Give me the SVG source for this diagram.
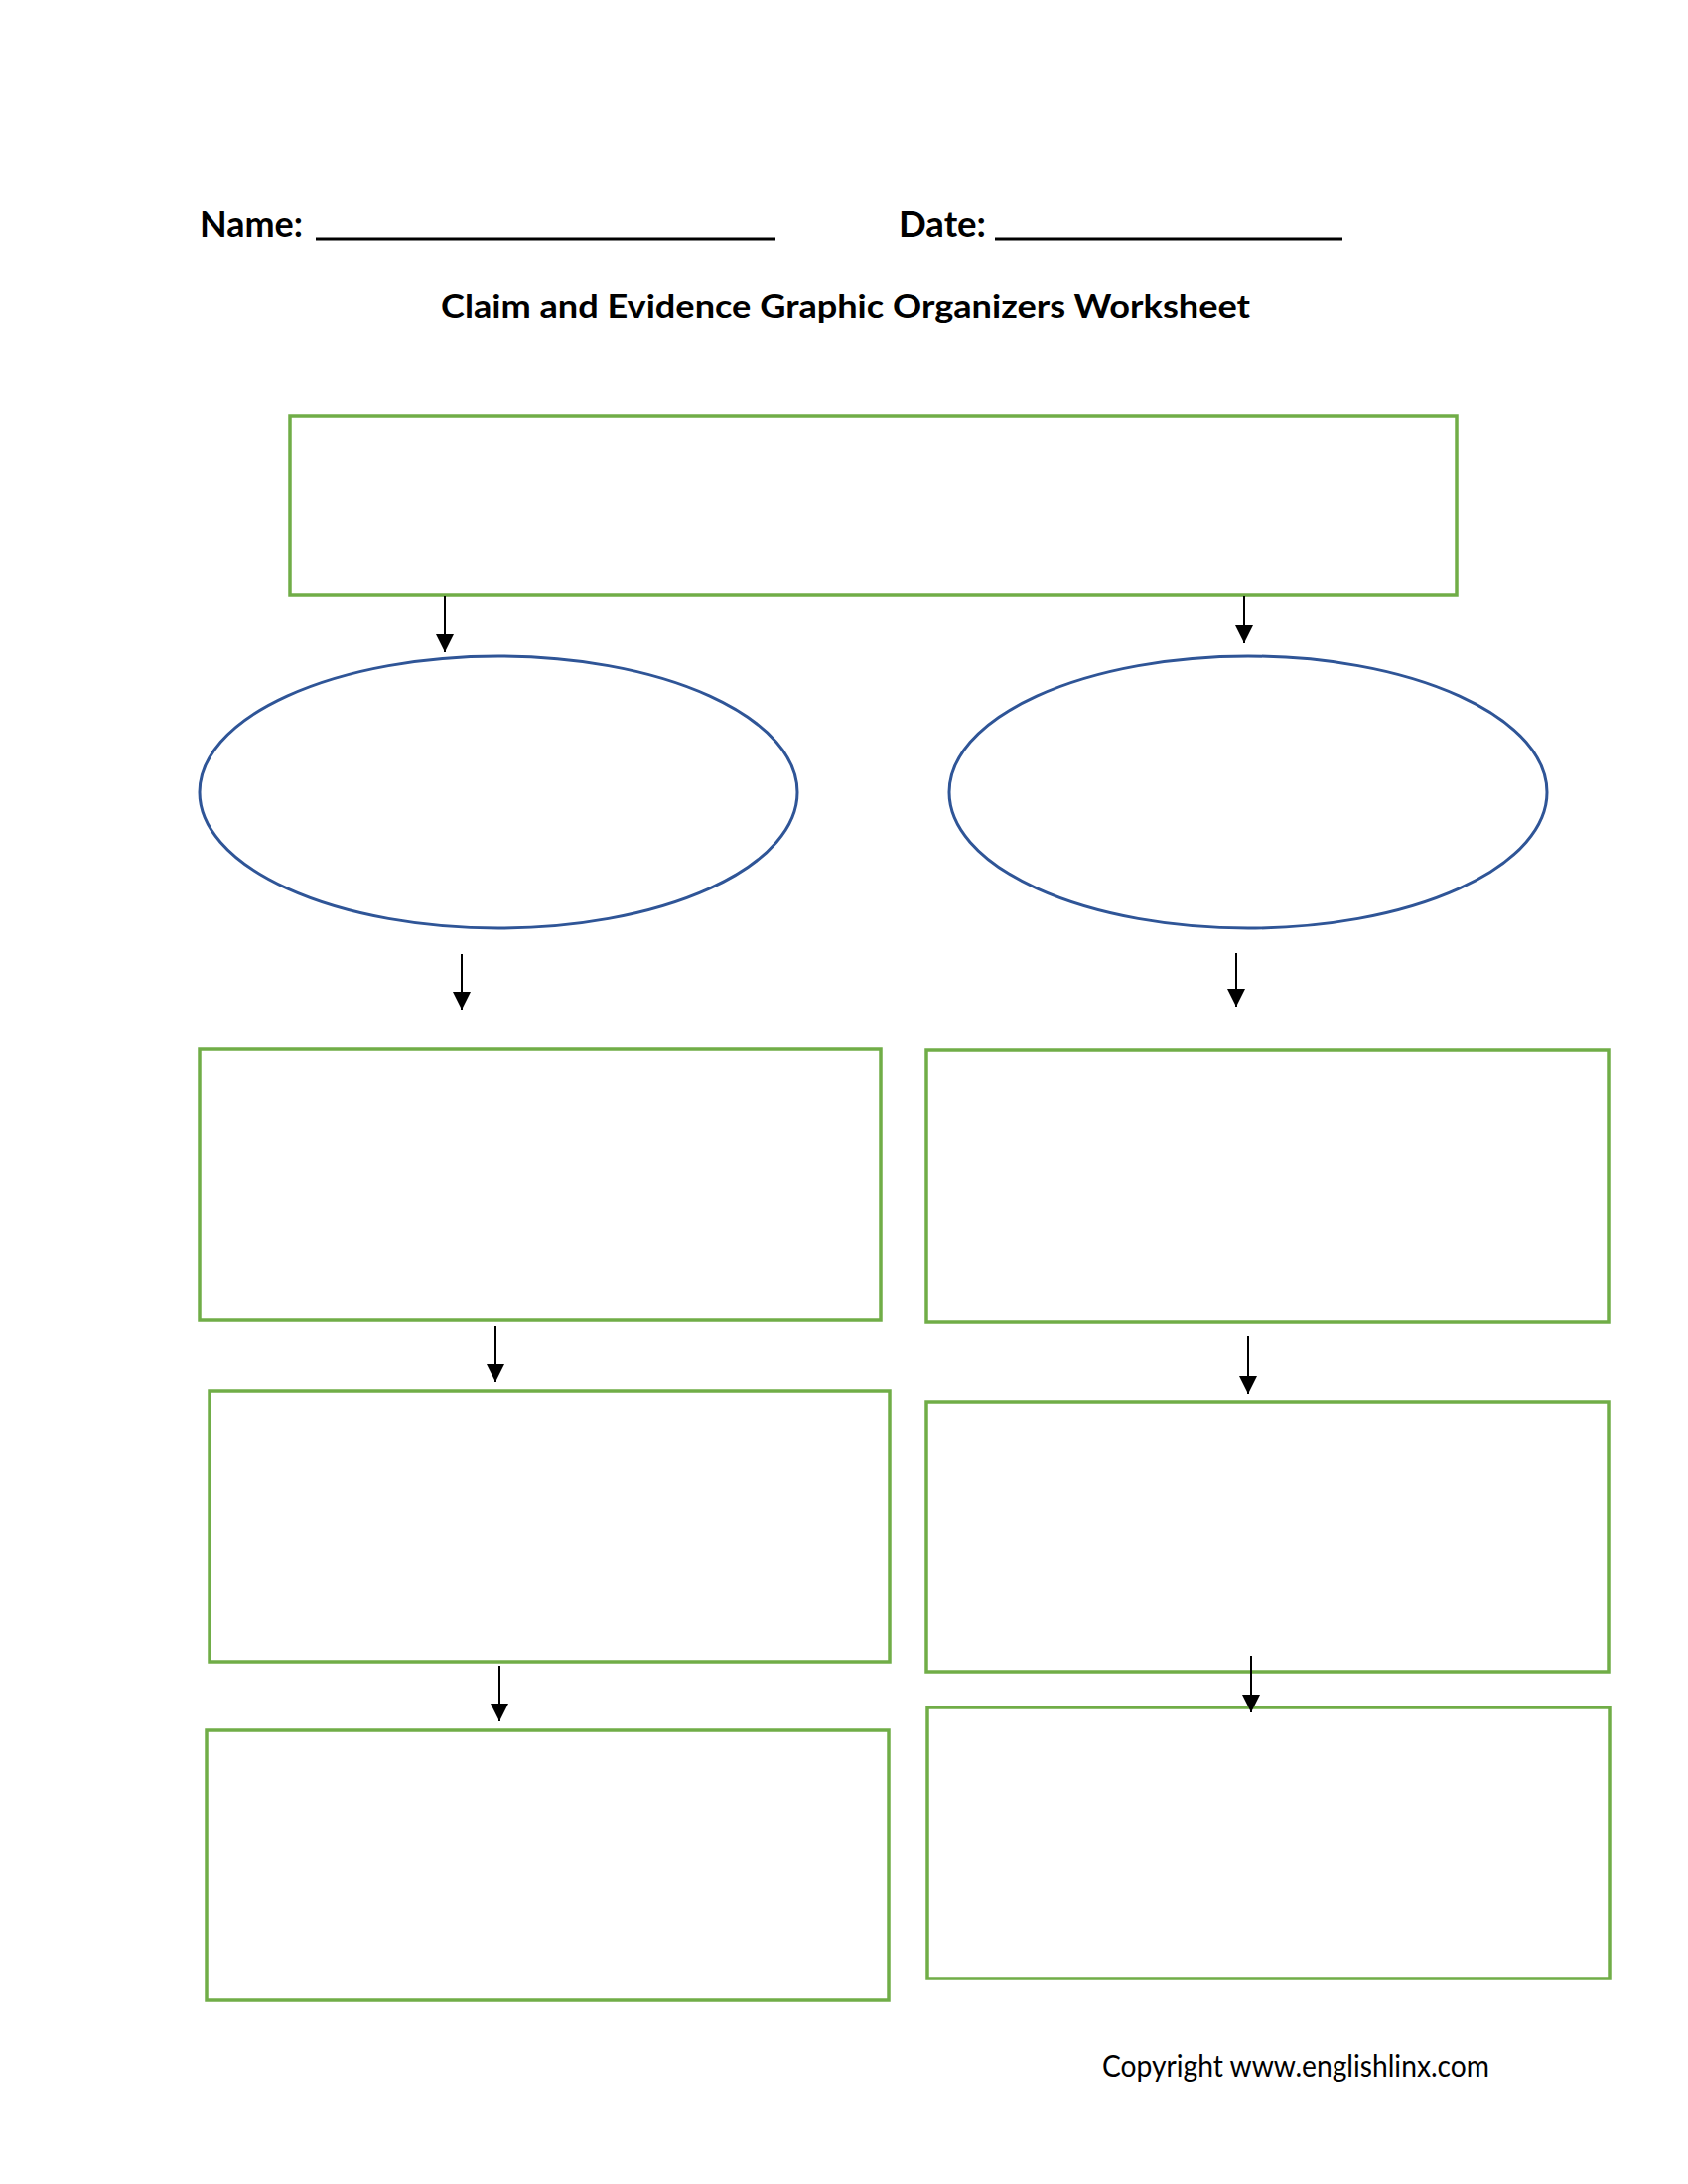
<svg xmlns="http://www.w3.org/2000/svg" width="1700" height="2200" viewBox="0 0 1700 2200">
<defs>
<style>
.box{fill:none;stroke:#70AD47;stroke-width:3.5}
.oval{fill:none;stroke:#2F5597;stroke-width:3}
.ln{stroke:#000;stroke-width:2;fill:none}
.hd{font-family:Lato,"Liberation Sans",sans-serif;font-weight:bold;fill:#000}
.rule{stroke:#000;stroke-width:3}
</style>
<marker id="ah" viewBox="0 0 10 10" refX="10" refY="5" markerWidth="18" markerHeight="18" markerUnits="userSpaceOnUse" orient="auto">
<path d="M0,0 L10,5 L0,10 z" fill="#000"/>
</marker>
</defs>
<rect width="1700" height="2200" fill="#fff"/>
<g id="header">
<text class="hd" x="201" y="239" font-size="36" textLength="104" lengthAdjust="spacingAndGlyphs">Name:</text>
<line class="rule" x1="318" y1="241" x2="781" y2="241"/>
<text class="hd" x="905" y="239" font-size="36" textLength="88" lengthAdjust="spacingAndGlyphs">Date:</text>
<line class="rule" x1="1002" y1="241" x2="1352" y2="241"/>
<text class="hd" x="444" y="320" font-size="33" textLength="815" lengthAdjust="spacingAndGlyphs">Claim and Evidence Graphic Organizers Worksheet</text>
</g>
<g id="claim"><rect class="box" x="292" y="419" width="1175" height="180"/></g>
<g id="reason-left"><ellipse class="oval" cx="502" cy="798" rx="301" ry="137"/></g>
<g id="reason-right"><ellipse class="oval" cx="1257" cy="798" rx="301" ry="137"/></g>
<g id="evidence-left-1"><rect class="box" x="201" y="1057" width="686" height="273"/></g>
<g id="evidence-right-1"><rect class="box" x="933" y="1058" width="687" height="274"/></g>
<g id="evidence-left-2"><rect class="box" x="211" y="1401" width="685" height="273"/></g>
<g id="evidence-right-2"><rect class="box" x="933" y="1412" width="687" height="272"/></g>
<g id="evidence-left-3"><rect class="box" x="208" y="1743" width="687" height="272"/></g>
<g id="evidence-right-3"><rect class="box" x="934" y="1720" width="687" height="273"/></g>
<g id="connectors">
<line class="ln" x1="448" y1="600" x2="448" y2="657" marker-end="url(#ah)"/>
<line class="ln" x1="1253" y1="600" x2="1253" y2="648" marker-end="url(#ah)"/>
<line class="ln" x1="465" y1="961" x2="465" y2="1017" marker-end="url(#ah)"/>
<line class="ln" x1="1245" y1="960" x2="1245" y2="1014" marker-end="url(#ah)"/>
<line class="ln" x1="499" y1="1336" x2="499" y2="1392" marker-end="url(#ah)"/>
<line class="ln" x1="1257" y1="1346" x2="1257" y2="1404" marker-end="url(#ah)"/>
<line class="ln" x1="503" y1="1678" x2="503" y2="1734" marker-end="url(#ah)"/>
<line class="ln" x1="1260" y1="1668" x2="1260" y2="1725" stroke-width="3" marker-end="url(#ah)"/>
</g>
<text x="1110" y="2092" font-family="Lato,'Liberation Sans',sans-serif" font-size="30" fill="#000" textLength="390" lengthAdjust="spacingAndGlyphs">Copyright www.englishlinx.com</text>
</svg>
